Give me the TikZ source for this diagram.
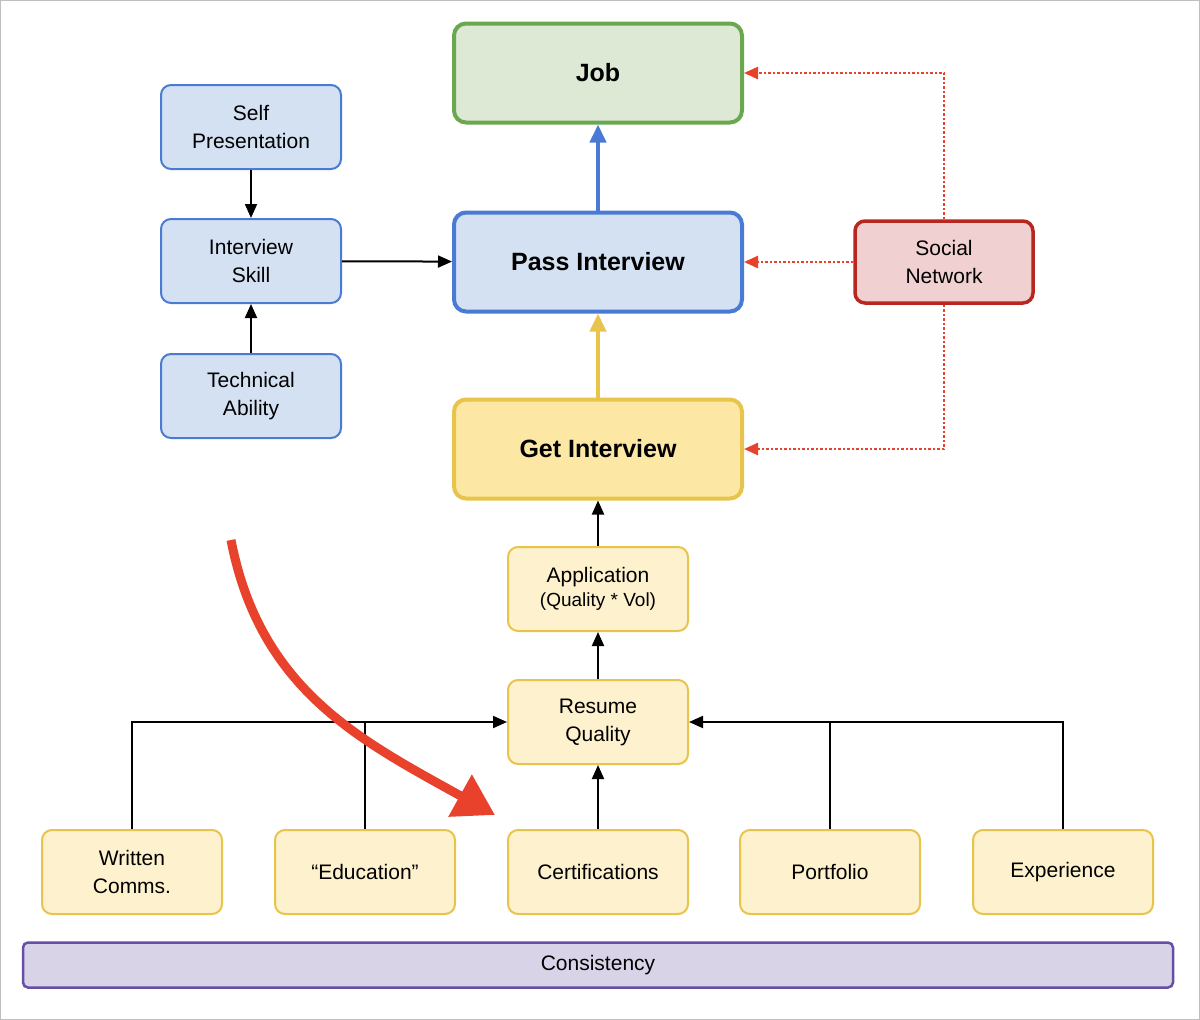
\documentclass[tikz,border=0pt]{standalone}
\usepackage{fontspec}
\setmainfont{Liberation Sans}
\usetikzlibrary{arrows.meta}
\definecolor{gF}{HTML}{DDE9D5}\definecolor{gB}{HTML}{6AA84F}
\definecolor{bF}{HTML}{D4E1F2}\definecolor{bB}{HTML}{4A7BD4}
\definecolor{yF}{HTML}{FCE8A4}\definecolor{yB}{HTML}{E8C44C}
\definecolor{lyF}{HTML}{FDF1CE}
\definecolor{rF}{HTML}{F0D0D0}\definecolor{rB}{HTML}{B7271F}
\definecolor{pF}{HTML}{D9D3E8}\definecolor{pB}{HTML}{674EA7}
\definecolor{arr}{HTML}{E8412C}
\begin{document}
\begin{tikzpicture}[x=1pt,y=-1pt,
 big/.style={draw,line width=4pt,rounded corners=12pt,minimum width=288pt,minimum height=99pt,font=\fontsize{25}{30}\selectfont\bfseries,align=center},
 small/.style={draw,line width=2pt,rounded corners=10pt,minimum width=180pt,minimum height=84pt,font=\fontsize{21}{28}\selectfont,align=center},
 ar/.style={line width=2pt,-{Triangle[length=14pt,width=12pt]}},
 dot/.style={arr,line width=2.5pt,dotted,-{Triangle[length=14pt,width=12pt]}}]
\useasboundingbox (0,0) rectangle (1200,1020);
\draw[gray!50,line width=1pt] (0.5,0.5) rectangle (1199.5,1019.5);
\node[big,fill=gF,draw=gB] (job) at (598,73) {Job};
\node[big,fill=bF,draw=bB] (pass) at (598,262) {Pass Interview};
\node[big,fill=yF,draw=yB] (get) at (598,449) {Get Interview};
\node[small,fill=rF,draw=rB,line width=3.5pt,minimum width=178pt,minimum height=82pt] (soc) at (944,262) {Social\\Network};
\node[small,fill=bF,draw=bB] (self) at (251,127) {Self\\Presentation};
\node[small,fill=bF,draw=bB] (skill) at (251,261) {Interview\\Skill};
\node[small,fill=bF,draw=bB] (tech) at (251,396) {Technical\\Ability};
\node[small,fill=lyF,draw=yB] (app) at (598,589) {Application\\[-4pt]{\fontsize{19}{24}\selectfont (Quality * Vol)}};
\node[small,fill=lyF,draw=yB] (res) at (598,722) {Resume\\Quality};
\node[small,fill=lyF,draw=yB] (wri) at (132,872) {Written\\Comms.};
\node[small,fill=lyF,draw=yB] (edu) at (365,872) {“Education”};
\node[small,fill=lyF,draw=yB] (cer) at (598,872) {Certifications};
\node[small,fill=lyF,draw=yB] (por) at (830,872) {Portfolio};
\node[small,fill=lyF,draw=yB] (exp) at (1063,872) {Experience};
\node[draw=pB,fill=pF,line width=2.5pt,rounded corners=5pt,minimum width=1150pt,minimum height=45pt,font=\fontsize{21}{26}\selectfont] (con) at (598,965) {Consistency};
\draw[ar] (self) -- (skill);
\draw[ar] (tech) -- (skill);
\draw[ar] (skill) -- (pass);
\draw[line width=4pt,yB,-{Triangle[length=18pt,width=16pt]}] (get) -- (pass);
\draw[line width=4pt,bB,-{Triangle[length=18pt,width=16pt]}] (pass) -- (job);
\draw[ar] (app) -- (get);
\draw[ar] (res) -- (app);
\draw[ar] (cer) -- (res);
\draw[ar] (wri.north) |- (res.west);
\draw[line width=2pt] (edu.north) -- ++(0,-107);
\draw[ar] (exp.north) |- (res.east);
\draw[line width=2pt] (por.north) -- ++(0,-107);
\draw[dot] (soc.north) |- (job.east);
\draw[dot] (soc.west) -- (pass.east);
\draw[dot] (soc.south) |- (get.east);
\coordinate (cs) at (231,540);
\coordinate (ce) at (495,815);
\draw[arr,line width=9pt,-{Triangle[length=40pt,width=46pt]}] (cs) .. controls (260,690) and (360,740) .. (ce);
\end{tikzpicture}
\end{document}
